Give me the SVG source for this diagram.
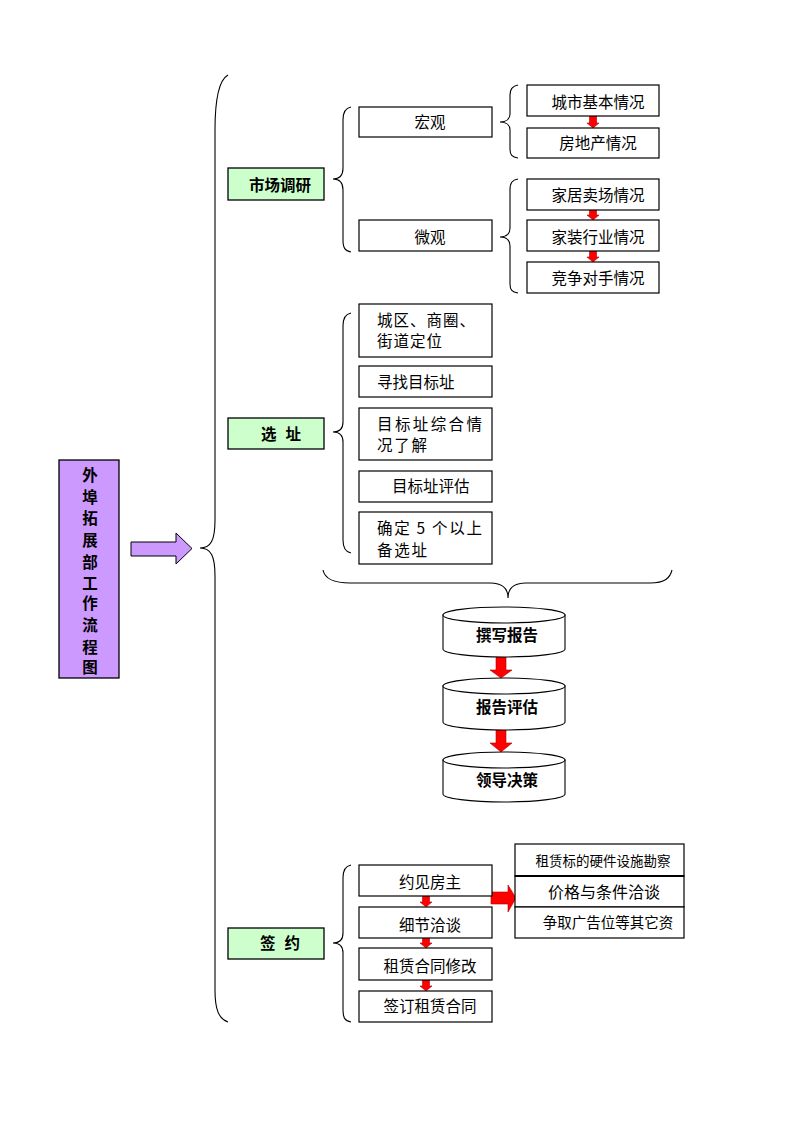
<svg xmlns="http://www.w3.org/2000/svg" width="793" height="1122" viewBox="0 0 793 1122">
<style>
text{font-family:"Noto Sans CJK SC","Liberation Sans",sans-serif;fill:#000}
.t{font-size:15.5px}
.b{font-size:15.5px;font-weight:bold}
.box{fill:#fff;stroke:#000;stroke-width:1.2}
.g{fill:#ccffcc;stroke:#000;stroke-width:1.3}
.br{fill:none;stroke:#000;stroke-width:1.1}
.ra{fill:#ff0000;stroke:#b00000;stroke-width:0.6}
.cyl{fill:#fff;stroke:#000;stroke-width:1.1}
</style>
<rect width="793" height="1122" fill="#fff"/>
<g id="connectors">
<path class="br" d="M228,75 C219,80 215,100 215,130 L215,520 C215,540 211,548 200,548 C211,548 215,556 215,576 L215,990 C215,1010 219,1019 228,1022"/>
<path d="M131,542 L176,542 L176,533 L192,548.5 L176,564 L176,556 L131,556 Z" fill="#cc99ff" stroke="#000" stroke-width="1"/>
<path class="br" d="M351,107 C345,108 343,112 343,120 L343,168 C343,175 340,179 333,179 C340,179 343,183 343,190 L343,240 C343,248 345,251 351,252"/>
<path class="br" d="M518,85 C512,86 510,89 510,95 L510,114 C510,119 506,122 500,122 C506,122 510,125 510,130 L510,149 C510,155 512,157 518,158"/>
<path class="br" d="M518,179 C512,180 510,183 510,190 L510,228 C510,234 506,237 500,237 C506,237 510,240 510,246 L510,284 C510,290 512,292 518,293"/>
<path class="br" d="M351,313 C345,314 343,318 343,326 L343,422 C343,429 340,432 333,432 C340,432 343,435 343,442 L343,540 C343,548 345,552 351,553"/>
<path class="br" d="M323,570 C325,580 335,583 350,583 L490,583 C502,583 508,588 508,598 C508,588 514,583 526,583 L650,583 C665,583 670,578 672,570"/>
<path class="br" d="M351,865 C345,866 343,870 343,878 L343,933 C343,940 340,943 333,943 C340,943 343,946 343,953 L343,1010 C343,1018 345,1021 351,1022"/>
<path class="ra" d="M589.5,116 L596.5,116 L596.5,123 L599,123 L593,128 L587,123 L589.5,123 Z"/>
<path class="ra" d="M589.5,210 L596.5,210 L596.5,215 L599,215 L593,220 L587,215 L589.5,215 Z"/>
<path class="ra" d="M589.5,251 L596.5,251 L596.5,257 L599,257 L593,262 L587,257 L589.5,257 Z"/>
<path class="ra" d="M422.5,896 L429.5,896 L429.5,902 L432,902 L426,907 L420,902 L422.5,902 Z"/>
<path class="ra" d="M422.5,938 L429.5,938 L429.5,943 L432,943 L426,948 L420,943 L422.5,943 Z"/>
<path class="ra" d="M422.5,980 L429.5,980 L429.5,986 L432,986 L426,991 L420,986 L422.5,986 Z"/>
<path class="ra" d="M496,656 L506,656 L506,670 L512,670 L501,678 L490,670 L496,670 Z"/>
<path class="ra" d="M496,729 L506,729 L506,743 L512,743 L501,752 L490,743 L496,743 Z"/>
<path class="ra" d="M491,892 L508,892 L508,885 L516,898 L508,912 L508,904 L491,904 Z"/>
</g>
<g id="title">
<rect x="59" y="460" width="60" height="218" fill="#cc99ff" stroke="#000" stroke-width="1.3"/>
<g text-anchor="middle">
<text class="b" x="90" y="481">外</text>
<text class="b" x="90" y="503">埠</text>
<text class="b" x="90" y="524">拓</text>
<text class="b" x="90" y="546">展</text>
<text class="b" x="90" y="568">部</text>
<text class="b" x="90" y="589">工</text>
<text class="b" x="90" y="609">作</text>
<text class="b" x="90" y="631">流</text>
<text class="b" x="90" y="653">程</text>
<text class="b" x="90" y="673">图</text>
</g>
</g>
<g id="market">
<rect class="g" x="228" y="168" width="96" height="32"/>
<text class="b" x="280" y="191" text-anchor="middle">市场调研</text>
</g>
<g id="macro">
<rect class="box" x="359" y="107" width="133" height="30"/>
<text class="t" x="430" y="128" text-anchor="middle">宏观</text>
</g>
<g id="micro">
<rect class="box" x="359" y="220" width="133" height="31"/>
<text class="t" x="430" y="243" text-anchor="middle">微观</text>
</g>
<g id="city">
<rect class="box" x="527" y="85" width="132" height="31"/>
<text class="t" x="598" y="108" text-anchor="middle">城市基本情况</text>
</g>
<g id="realestate">
<rect class="box" x="527" y="128" width="132" height="30"/>
<text class="t" x="598" y="149" text-anchor="middle">房地产情况</text>
</g>
<g id="furniture">
<rect class="box" x="527" y="179" width="132" height="31"/>
<text class="t" x="598" y="201" text-anchor="middle">家居卖场情况</text>
</g>
<g id="decor">
<rect class="box" x="527" y="220" width="132" height="31"/>
<text class="t" x="598" y="243" text-anchor="middle">家装行业情况</text>
</g>
<g id="rivals">
<rect class="box" x="527" y="262" width="132" height="31"/>
<text class="t" x="598" y="284" text-anchor="middle">竞争对手情况</text>
</g>
<g id="site">
<rect class="g" x="228" y="418" width="96" height="31"/>
<text class="b" x="261" y="440" textLength="40" lengthAdjust="spacing">选 址</text>
</g>
<g id="s1">
<rect class="box" x="359" y="304" width="133" height="53"/>
<text class="t" x="377" y="326" textLength="98" lengthAdjust="spacing">城区、商圈、</text>
<text class="t" x="377" y="347" textLength="65" lengthAdjust="spacing">街道定位</text>
</g>
<g id="s2">
<rect class="box" x="359" y="366" width="133" height="31"/>
<text class="t" x="377" y="388">寻找目标址</text>
</g>
<g id="s3">
<rect class="box" x="359" y="408" width="133" height="52"/>
<text class="t" x="377" y="430" textLength="105" lengthAdjust="spacing">目标址综合情</text>
<text class="t" x="377" y="451" textLength="50" lengthAdjust="spacing">况了解</text>
</g>
<g id="s4">
<rect class="box" x="359" y="471" width="133" height="31"/>
<text class="t" x="392" y="492">目标址评估</text>
</g>
<g id="s5">
<rect class="box" x="359" y="512" width="133" height="52"/>
<text class="t" x="377" y="534" textLength="105" lengthAdjust="spacing">确定 5 个以上</text>
<text class="t" x="377" y="556" textLength="50" lengthAdjust="spacing">备选址</text>
</g>
<g id="report">
<path class="cyl" d="M443,615 L443,649 A61,8 0 0 0 565,649 L565,615 Z"/>
<ellipse class="cyl" cx="504" cy="615" rx="61" ry="8"/>
<text class="b" x="507" y="641" text-anchor="middle">撰写报告</text>
</g>
<g id="evaluate">
<path class="cyl" d="M443,686 L443,722 A61,8 0 0 0 565,722 L565,686 Z"/>
<ellipse class="cyl" cx="504" cy="686" rx="61" ry="8"/>
<text class="b" x="507" y="713" text-anchor="middle">报告评估</text>
</g>
<g id="decide">
<path class="cyl" d="M443,760 L443,794 A61,8 0 0 0 565,794 L565,760 Z"/>
<ellipse class="cyl" cx="504" cy="760" rx="61" ry="8"/>
<text class="b" x="507" y="786" text-anchor="middle">领导决策</text>
</g>
<g id="sign">
<rect class="g" x="228" y="928" width="96" height="31"/>
<text class="b" x="260" y="949" textLength="40" lengthAdjust="spacing">签 约</text>
</g>
<g id="c1">
<rect class="box" x="359" y="865" width="133" height="31"/>
<text class="t" x="430" y="888" text-anchor="middle" font-size="16">约见房主</text>
</g>
<g id="c2">
<rect class="box" x="359" y="907" width="133" height="31"/>
<text class="t" x="430" y="931" text-anchor="middle">细节洽谈</text>
</g>
<g id="c3">
<rect class="box" x="359" y="948" width="133" height="32"/>
<text class="t" x="430" y="972" text-anchor="middle">租赁合同修改</text>
</g>
<g id="c4">
<rect class="box" x="359" y="991" width="133" height="31"/>
<text class="t" x="430" y="1012" text-anchor="middle">签订租赁合同</text>
</g>
<g id="r1">
<rect class="box" x="515" y="844" width="169" height="32"/>
<text x="603" y="866" text-anchor="middle" font-size="13.5">租赁标的硬件设施勘察</text>
</g>
<g id="r2">
<rect class="box" x="515" y="876" width="169" height="31"/>
<line x1="515" y1="876" x2="684" y2="876" stroke="#000" stroke-width="2"/>
<text x="604" y="898" text-anchor="middle" font-size="16">价格与条件洽谈</text>
</g>
<g id="r3">
<rect class="box" x="515" y="907" width="169" height="31"/>
<text x="608" y="928" text-anchor="middle" font-size="14.5">争取广告位等其它资</text>
</g>
</svg>
